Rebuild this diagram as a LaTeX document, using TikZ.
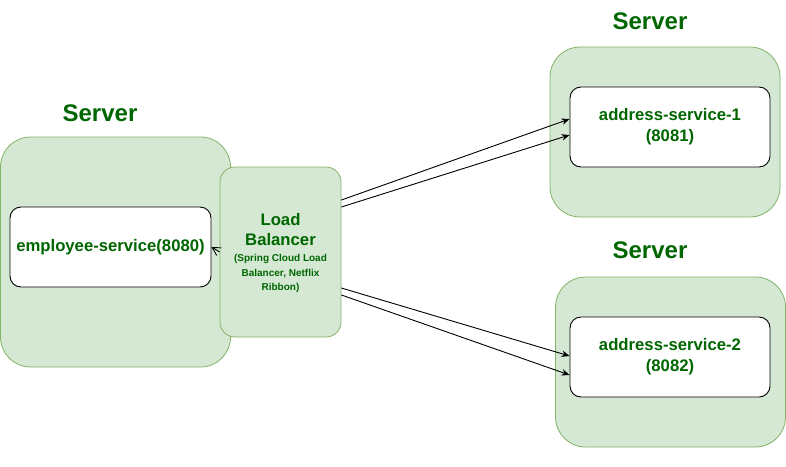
\documentclass[tikz,border=0pt]{standalone}
\usepackage{fontspec}
\setmainfont{Liberation Sans}
\usetikzlibrary{positioning}
\usetikzlibrary{arrows.meta}

\definecolor{srvfill}{HTML}{D5E8D4}
\definecolor{srvline}{HTML}{82B366}
\definecolor{txtgreen}{HTML}{006600}

\begin{document}
\begin{tikzpicture}[x=1pt, y=-1pt,
	server/.style={draw=srvline, fill=srvfill, rounded corners=30pt, inner sep=0pt, line width=0.8pt},
	service/.style={draw=black, fill=white, rounded corners=11pt, inner sep=0pt, line width=0.9pt,
		minimum width=200pt, minimum height=80pt, text=txtgreen, font=\bfseries\fontsize{16.7}{21}\selectfont, align=center},
	srvlabel/.style={text=txtgreen, font=\bfseries\fontsize{24}{28}\selectfont},
	flow/.style={-{Stealth[length=8pt,width=6.5pt]}, line width=0.9pt}
	]
	 % keep the page the size of the reference
	 \useasboundingbox (0,0) rectangle (786,466);

	 % the three servers
	 \node[server, minimum width=230pt, minimum height=230pt] (srvA) at (115.5,252) {};
	 \node[server, minimum width=230pt, minimum height=170pt] (srvB) at (665,132) {};
	 \node[server, minimum width=230pt, minimum height=170pt] (srvC) at (670.5,362) {};

	 \node[srvlabel] (lblA) at (100,113) {Server};
	 \node[srvlabel] (lblB) at (650,21) {Server};
	 \node[srvlabel] (lblC) at (650,250) {Server};

	 % services inside them
	 \node[service, minimum width=201pt] (emp) at (110.5,247) {employee-service(8080)};
	 \node[service] (addr1) at (670,127) {address-service-1\\(8081)};
	 \node[service] (addr2) at (670,357) {address-service-2\\(8082)};

	 % load balancer
	 \node[server, rounded corners=15pt, minimum width=121pt, minimum height=170pt] (lb) at (280.5,252) {};
	 \node[text=txtgreen, align=center, inner sep=0pt, font=\bfseries\fontsize{16.7}{20}\selectfont] (lbtitle) at (280.5,230) {Load\\Balancer};
	 \node[text=txtgreen, align=center, inner sep=0pt, font=\bfseries\fontsize{10}{14.5}\selectfont] (lbnote) at (280.5,273.5) {(Spring Cloud Load\\Balancer, Netflix\\Ribbon)};

	 % connectors
	 \draw[-{Straight Barb[length=8pt,width=9pt]}, line width=0.9pt] (lb.west) -- (emp.east);
	 \draw[flow] ([yshift=52pt]lb.east) -- ([yshift=8pt]addr1.west);
	 \draw[flow] ([yshift=45pt]lb.east) -- ([yshift=-8pt]addr1.west);
	 \draw[flow] ([yshift=-36pt]lb.east) -- ([yshift=1pt]addr2.west);
	 \draw[flow] ([yshift=-43pt]lb.east) -- ([yshift=-18pt]addr2.west);
\end{tikzpicture}
\end{document}
